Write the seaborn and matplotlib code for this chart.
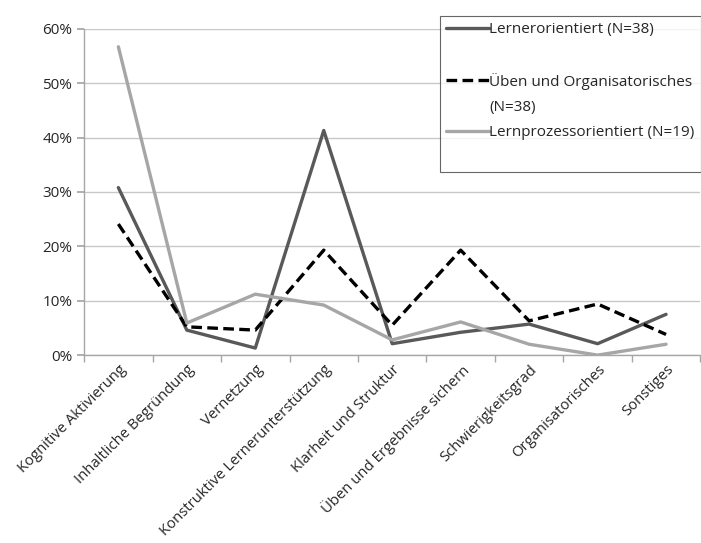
import numpy as np
import pandas as pd
import matplotlib
matplotlib.use("Agg")
import matplotlib.pyplot as plt
import seaborn as sns
from matplotlib.ticker import PercentFormatter

categories = ["Kognitive Aktivierung", "Inhaltliche Begründung", "Vernetzung",
              "Konstruktive Lernerunterstützung", "Klarheit und Struktur",
              "Üben und Ergebnisse sichern", "Schwierigkeitsgrad",
              "Organisatorisches", "Sonstiges"]
lernerorientiert = [0.308, 0.046, 0.013, 0.413, 0.021, 0.042, 0.057, 0.021, 0.075]
ueben_org = [0.241, 0.052, 0.046, 0.193, 0.055, 0.193, 0.063, 0.094, 0.038]
lernprozess = [0.567, 0.059, 0.112, 0.092, 0.028, 0.061, 0.020, 0.0, 0.020]
series_names = ["Lernerorientiert (N=38)", "Üben und Organisatorisches (N=38)",
                "Lernprozessorientiert (N=19)"]
y_ticks = [0, 0.1, 0.2, 0.3, 0.4, 0.5, 0.6]

rows = []
for name, vals in zip(series_names, [lernerorientiert, ueben_org, lernprozess]):
    for i, v in enumerate(vals):
        rows.append({"pos": i, "Kategorie": categories[i], "Anteil": v, "Gruppe": name})
df = pd.DataFrame(rows)

sns.set_theme(style="white")
plt.rcParams["font.family"] = ["Open Sans", "DejaVu Sans"]

fig = plt.figure(figsize=(7.01, 5.43), dpi=100)
ax = fig.add_axes([0.12, 0.346, 0.879, 0.601])

palette = {series_names[0]: "#595959", series_names[1]: "#000000", series_names[2]: "#a6a6a6"}
dashes = {series_names[0]: "", series_names[1]: (3.2, 1.6), series_names[2]: ""}
sns.lineplot(data=df, x="pos", y="Anteil", hue="Gruppe", style="Gruppe",
             palette=palette, dashes=dashes, linewidth=2.4, ax=ax, legend=False)

ax.set_xlim(-0.5, 8.5)
ax.set_ylim(0, 0.6)
ax.set_yticks(y_ticks)
ax.yaxis.set_major_formatter(PercentFormatter(1.0, decimals=0))
ax.yaxis.grid(True, color="#c8c8c8", linewidth=1)
ax.set_axisbelow(True)

ax.set_xticks(range(len(categories)))
ax.set_xticklabels(categories, rotation=45, ha="right", rotation_mode="anchor", fontsize=10.7)
ax.set_xticks(np.arange(-0.5, 9, 1), minor=True)
ax.tick_params(axis="x", which="major", length=0, pad=5)
ax.tick_params(axis="x", which="minor", length=5, color="#a6a6a6", direction="out", bottom=True)
ax.tick_params(axis="y", length=5, color="#a6a6a6", direction="out", left=True, labelsize=11)
ax.set_xlabel("")
ax.set_ylabel("")

for s in ["top", "right"]:
    ax.spines[s].set_visible(False)
for s in ["left", "bottom"]:
    ax.spines[s].set_color("#a6a6a6")
    ax.spines[s].set_linewidth(1)

# legend rows laid out like the Excel original (wrapped second label, extra gaps)
blank = plt.Line2D([], [], color="none")
handles = [plt.Line2D([], [], color=palette[series_names[0]], linewidth=2.4),
           blank,
           plt.Line2D([], [], color=palette[series_names[1]], linewidth=2.4,
                      linestyle=(0, dashes[series_names[1]])),
           blank,
           plt.Line2D([], [], color=palette[series_names[2]], linewidth=2.4),
           blank]
labels = [series_names[0], " ", "Üben und Organisatorisches", "(N=38)", series_names[2], " "]
leg = fig.legend(handles, labels, loc="upper right", bbox_to_anchor=(0.9995, 0.971),
                 frameon=True, fancybox=False, fontsize=11, handlelength=2.8,
                 handletextpad=0.05, labelspacing=0.68, borderpad=0.4, borderaxespad=0)
leg.get_frame().set_edgecolor("#404040")
leg.get_frame().set_linewidth(0.8)

fig.savefig("out.png", dpi=100)
